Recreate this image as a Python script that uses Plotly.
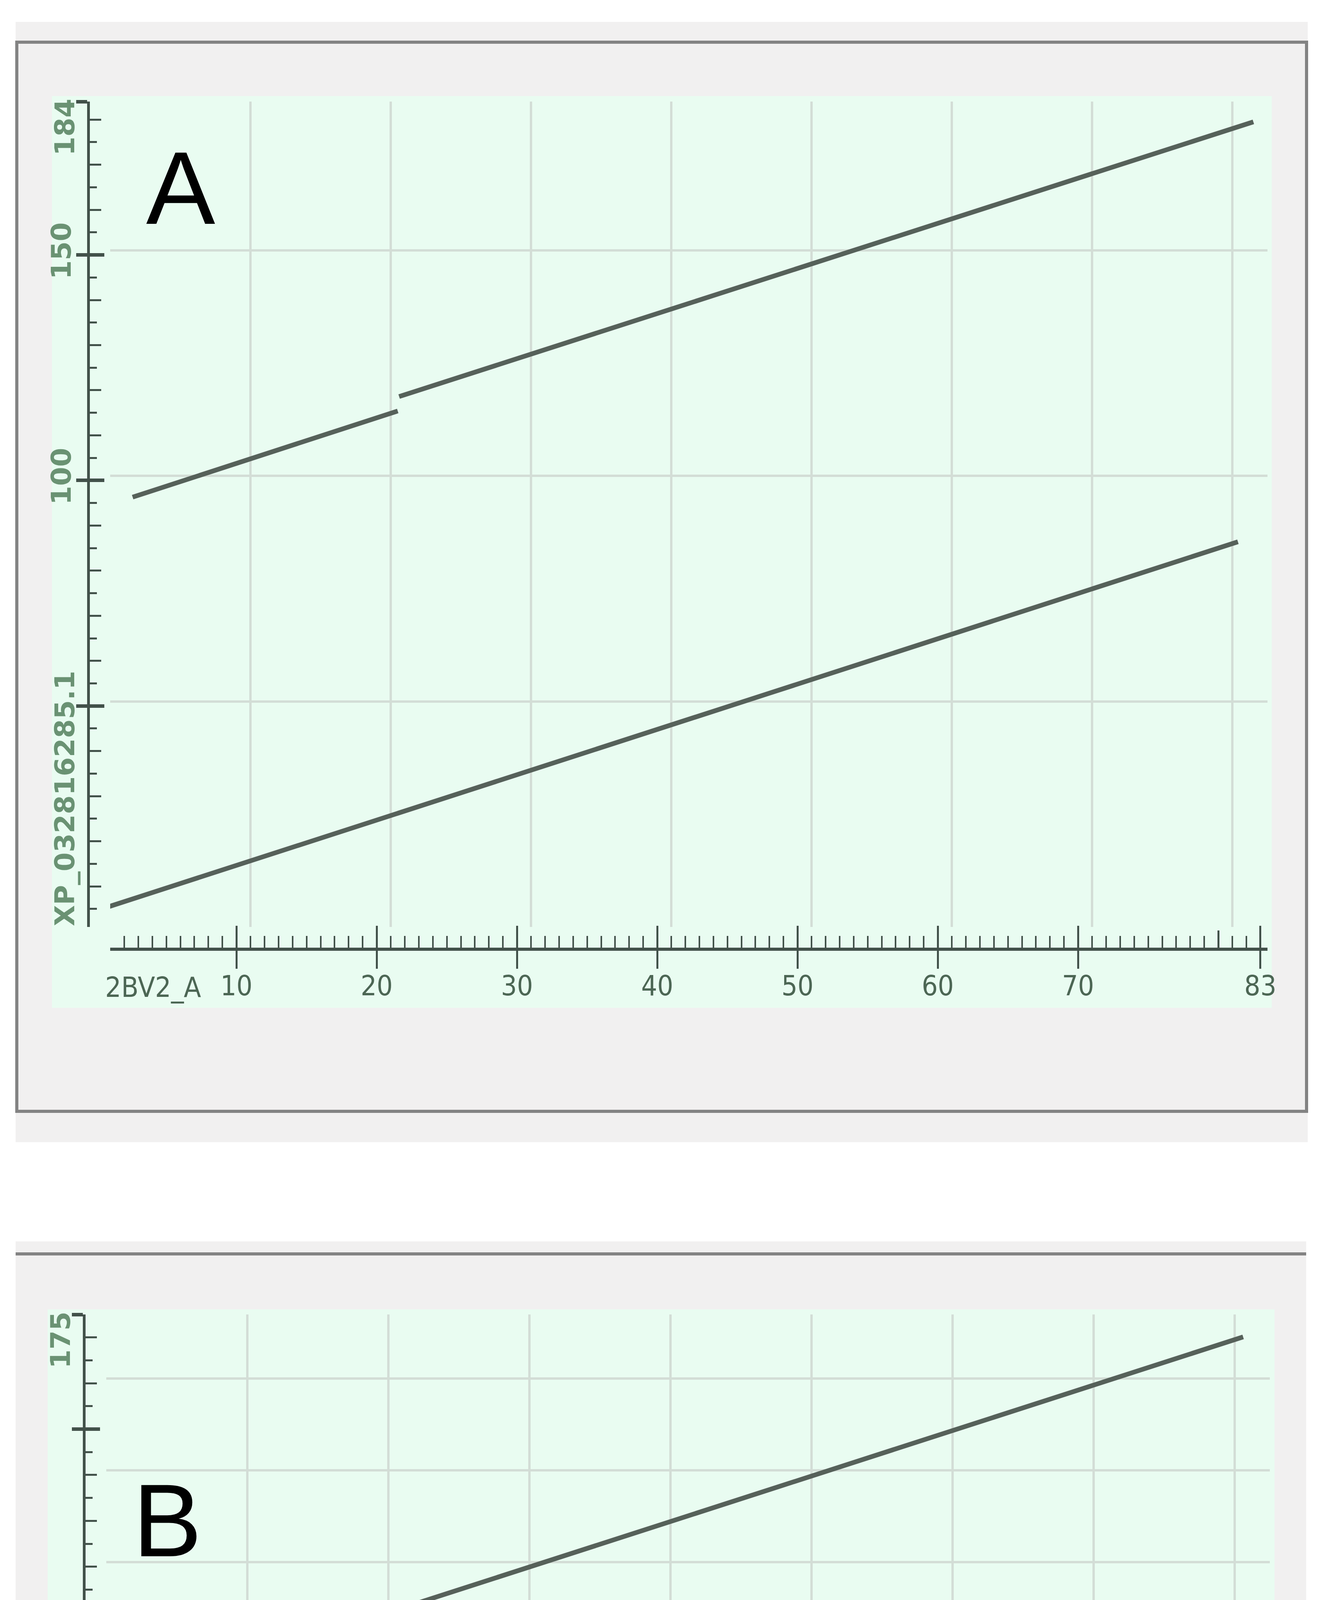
import plotly.graph_objects as go

# ---- data (residue positions) ----
X_TICKS = [10, 20, 30, 40, 50, 60, 70, 83]
X_GRID = [1, 11, 21, 31, 41, 51, 61, 71, 81]

A_X_NAME = "2BV2_A"
A_Y_NAME = "XP_032816285.1"
A_X_LEN = 83
A_Y_LEN = 184
A_Y_MAJOR = [50, 100, 150, 184]
A_Y_TEXT = ["", "100", "150", "184"]
A_Y_GRID = [1, 51, 101, 151]
A_TOP_X = [2.6, 21.5, None, 21.6, 82.5]
A_TOP_Y = [96.3, 115.4, None, 118.6, 179.5]
A_BOT_X = [0.6, 81.4]
A_BOT_Y = [5.2, 86.4]

B_X_NAME = "2BV2_A"
B_Y_NAME = "XP_032804576.1"
B_X_LEN = 83
B_Y_LEN = 175
B_Y_MAJOR = [50, 100, 150, 175]
B_Y_TEXT = ["", "100", "", "175"]
B_Y_GRID = [1, 21, 41, 61, 81, 101, 121, 141, 161]
B_TOP_X = [1.5, 81.6]
B_TOP_Y = [90.7, 170.1]
B_BOT_X = [1.5, 17.6, None, 19.7, 81.6]
B_BOT_Y = [2.8, 18.9, None, 18.7, 80.7]

# ---- page geometry (pixels of the screenshot) ----
W, H, OFF = 3388, 5923, 8


def px(x):
    return (x - OFF) / W


def py(y):
    return 1 - (y - OFF) / H


RULER = "#42514a"
GRID = "#d3ddd6"
LINE = "#56615a"
GREEN = "#e9fcf1"
PANEL = "#f1f0f0"
FRAME = "#838383"
XFONT = dict(family="Liberation Sans Narrow, DejaVu Sans Condensed, sans-serif", size=72, color="#4c6654")
YFONT = dict(family="DejaVu Sans", size=70, color="#6a9273", weight="bold")

PANELS = [
    dict(ids=("", "2", "3"), top_x=A_TOP_X, top_y=A_TOP_Y, bot_x=A_BOT_X, bot_y=A_BOT_Y,
         xlen=A_X_LEN, ylen=A_Y_LEN, ymajor=A_Y_MAJOR, ytext=A_Y_TEXT, ygrid=A_Y_GRID,
         xname=A_X_NAME, yname=A_Y_NAME, unit=35.9,
         x0=282, y0=2373, y1=260, xaxis_at=2430, yaxis_at=226),
    dict(ids=("4", "5", "6"), top_x=B_TOP_X, top_y=B_TOP_Y, bot_x=B_BOT_X, bot_y=B_BOT_Y,
         xlen=B_X_LEN, ylen=B_Y_LEN, ymajor=B_Y_MAJOR, ytext=B_Y_TEXT, ygrid=B_Y_GRID,
         xname=B_X_NAME, yname=B_Y_NAME, unit=36.1,
         x0=272, y0=5408, y1=3365, xaxis_at=5463, yaxis_at=215),
]

fig = go.Figure()
layout = {}
annotations = []

for p in PANELS:
    d, r1, r2 = p["ids"]
    xd, yd = "x" + d, "y" + d
    xr = [1, p["xlen"] + 0.5]
    yr = [1, p["ylen"]]
    x1 = p["x0"] + (xr[1] - 1) * p["unit"]

    for xs, ys in ((p["top_x"], p["top_y"]), (p["bot_x"], p["bot_y"])):
        fig.add_trace(go.Scatter(x=xs, y=ys, mode="lines", xaxis=xd, yaxis=yd,
                                 line=dict(color=LINE, width=12), connectgaps=False,
                                 hoverinfo="skip", showlegend=False))
    # empty traces so the ruler axes get drawn
    for xa, ya in (("x" + r1, yd), ("x" + r2, yd), (xd, "y" + r1), (xd, "y" + r2)):
        fig.add_trace(go.Scatter(x=[], y=[], xaxis=xa, yaxis=ya, showlegend=False, hoverinfo="skip"))

    key = lambda a, n: f"{a}axis{n}"
    common = dict(automargin=False, zeroline=False, fixedrange=True)
    layout[key("x", d)] = dict(domain=[px(p["x0"]), px(x1)], range=xr, anchor=yd,
                               showgrid=True, gridcolor=GRID, gridwidth=6, tickmode="array",
                               tickvals=X_GRID, showticklabels=False, ticks="",
                               showline=False, **common)
    layout[key("y", d)] = dict(domain=[py(p["y0"]), py(p["y1"])], range=yr, anchor=xd,
                               showgrid=True, gridcolor=GRID, gridwidth=6, tickmode="array",
                               tickvals=p["ygrid"], showticklabels=False, ticks="",
                               showline=False, **common)

    x_minor = [v for v in range(2, p["xlen"]) if v not in X_TICKS and v != 80]
    layout[key("x", r1)] = dict(overlaying=xd, anchor="free", position=py(p["xaxis_at"]), range=xr,
                                showline=True, linecolor=RULER, linewidth=8, showgrid=False,
                                tickmode="array", tickvals=X_TICKS,
                                ticktext=[str(v) for v in X_TICKS], ticks="outside", ticklen=46,
                                tickwidth=5, tickcolor=RULER, tickfont=XFONT, ticklabelstandoff=-18,
                                minor=dict(tickmode="array", tickvals=x_minor, ticks="inside",
                                           ticklen=30, tickwidth=4, tickcolor=RULER, showgrid=False),
                                **common)
    layout[key("x", r2)] = dict(overlaying=xd, anchor="free", position=py(p["xaxis_at"]), range=xr,
                                showline=False, showgrid=False, tickmode="array",
                                tickvals=X_TICKS, ticks="inside", ticklen=60, tickwidth=5,
                                tickcolor=RULER, showticklabels=False,
                                minor=dict(tickmode="array", tickvals=[80], ticks="inside",
                                           ticklen=48, tickwidth=5, tickcolor=RULER, showgrid=False),
                                **common)

    small = [v for v in range(5, p["ylen"], 10)]
    medium = [v for v in range(10, p["ylen"], 10) if v not in p["ymajor"]]
    base_text = [t if v != p["ylen"] else "" for v, t in zip(p["ymajor"], p["ytext"])]
    top_text = [t if v == p["ylen"] else "" for v, t in zip(p["ymajor"], p["ytext"])]
    layout[key("y", r1)] = dict(overlaying=yd, anchor="free", position=px(p["yaxis_at"]), side="left",
                                range=yr, showline=True, linecolor=RULER, linewidth=7,
                                showgrid=False, tickmode="array",
                                tickvals=p["ymajor"], ticktext=base_text, ticks="outside",
                                ticklen=28, tickwidth=9, tickcolor=RULER, tickangle=-90,
                                tickfont=YFONT, ticklabelstandoff=-14,
                                minor=dict(tickmode="array", tickvals=small, ticks="inside",
                                           ticklen=18, tickwidth=5, tickcolor=RULER, showgrid=False),
                                **common)
    layout[key("y", r2)] = dict(overlaying=yd, anchor="free", position=px(p["yaxis_at"]), side="left",
                                range=yr, showline=False, showgrid=False,
                                tickmode="array", tickvals=p["ymajor"], ticktext=top_text,
                                ticks="inside", ticklen=40, tickwidth=9, tickcolor=RULER,
                                tickangle=-90, tickfont=YFONT, ticklabelshift=76,
                                ticklabelstandoff=22,
                                minor=dict(tickmode="array", tickvals=medium, ticks="inside",
                                           ticklen=32, tickwidth=5, tickcolor=RULER, showgrid=False),
                                **common)

    annotations.append(dict(text=p["xname"], xref="paper", yref="paper",
                            x=px(p["x0"] - 15), y=py(p["xaxis_at"] + 97),
                            xanchor="left", yanchor="middle", showarrow=False, font=XFONT))
    annotations.append(dict(text=p["yname"], xref="paper", yref="paper", textangle=-90,
                            x=px(p["yaxis_at"] - 60), y=py(p["y0"]),
                            xanchor="center", yanchor="bottom", showarrow=False, font=YFONT))

annotations.append(dict(text="A", xref="paper", yref="paper", x=px(463), y=py(481),
                        xanchor="center", yanchor="middle", showarrow=False,
                        font=dict(family="Liberation Sans, Arial, sans-serif", size=265, color="#000000")))
annotations.append(dict(text="B", xref="paper", yref="paper", x=px(428), y=py(3892),
                        xanchor="center", yanchor="middle", showarrow=False,
                        font=dict(family="Liberation Sans, Arial, sans-serif", size=265, color="#000000")))

shapes = [
    # panel A: grey card, frame, green plot canvas
    dict(type="rect", xref="paper", yref="paper", x0=px(40), x1=px(3347), y0=py(2924), y1=py(56),
         fillcolor=PANEL, line=dict(width=0), layer="below"),
    dict(type="rect", xref="paper", yref="paper", x0=px(43), x1=px(3344), y0=py(2845), y1=py(108),
         line=dict(color=FRAME, width=8), layer="below"),
    dict(type="rect", xref="paper", yref="paper", x0=px(133), x1=px(3255), y0=py(2580), y1=py(246),
         fillcolor=GREEN, line=dict(width=0), layer="below"),
    # panel B
    dict(type="rect", xref="paper", yref="paper", x0=px(40), x1=px(3343), y0=py(5858), y1=py(3178),
         fillcolor=PANEL, line=dict(width=0), layer="below"),
    dict(type="line", xref="paper", yref="paper", x0=px(40), x1=px(3343), y0=py(3210), y1=py(3210),
         line=dict(color=FRAME, width=8), layer="below"),
    dict(type="line", xref="paper", yref="paper", x0=px(40), x1=px(3343), y0=py(5858), y1=py(5858),
         line=dict(color=FRAME, width=8), layer="below"),
    dict(type="rect", xref="paper", yref="paper", x0=px(122), x1=px(3262), y0=py(5613), y1=py(3352),
         fillcolor=GREEN, line=dict(width=0), layer="below"),
]

fig.update_layout(
    width=W,
    height=H,
    autosize=False,
    margin=dict(l=0, r=0, t=0, b=0, pad=0),
    paper_bgcolor="#ffffff",
    plot_bgcolor="rgba(0,0,0,0)",
    showlegend=False,
    shapes=shapes,
    annotations=annotations,
    **layout,
)

fig.write_html("out.html")
